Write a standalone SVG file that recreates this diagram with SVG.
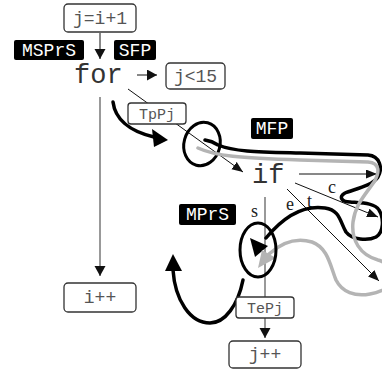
<svg xmlns="http://www.w3.org/2000/svg" width="382" height="372" viewBox="0 0 382 372">
  <defs>
    <style>
      .box { fill: #fff; stroke: #333; stroke-width: 1.3; }
      .code { font-family: "Liberation Mono", "DejaVu Sans Mono", monospace; fill: #555; text-anchor: middle; }
      .kw { font-family: "Liberation Mono", "DejaVu Sans Mono", monospace; fill: #333; font-size: 27px; }
      .tag rect { fill: #000; }
      .tag text { font-family: "Liberation Mono", "DejaVu Sans Mono", monospace; fill: #fff; font-size: 18px; text-anchor: middle; }
      .lbl { font-family: "Liberation Serif", "DejaVu Serif", serif; fill: #222; font-size: 18px; }
      .thin { fill: none; stroke: #111; stroke-width: 1; }
      .grayline { fill: none; stroke: #777; stroke-width: 1.5; }
      .thick { fill: none; stroke: #000; stroke-width: 3.5; stroke-linecap: round; }
      .thickgray { fill: none; stroke: #b4b4b4; stroke-width: 3.5; stroke-linecap: round; }
    </style>
    <marker id="ah" markerUnits="userSpaceOnUse" markerWidth="12" markerHeight="10" refX="11" refY="4.5" orient="auto">
      <path d="M0,0 L11,4.5 L0,9 Z" fill="#111"/>
    </marker>
    <marker id="ahBig" markerUnits="userSpaceOnUse" markerWidth="12" markerHeight="12" refX="10" refY="5.5" orient="auto">
      <path d="M0,0 L10,5.5 L0,11 Z" fill="#111"/>
    </marker>
  </defs>

  <!-- connectors -->
  <g id="connectors">
    <line class="thin" x1="100" y1="33" x2="100" y2="59" stroke="#222" marker-end="url(#ahBig)"/>
    <line class="thin" x1="137" y1="75" x2="157" y2="75" marker-end="url(#ahBig)"/>
    <line class="grayline" x1="100" y1="97" x2="100" y2="276" marker-end="url(#ahBig)"/>
    <line class="thin" x1="128" y1="89" x2="243" y2="172" marker-end="url(#ah)"/>
    <line class="thin" x1="299" y1="174" x2="377" y2="174" marker-end="url(#ah)"/>
    <line class="thin" x1="295" y1="183" x2="378" y2="217" marker-end="url(#ah)"/>
    <line class="thin" x1="287" y1="189" x2="379" y2="281" marker-end="url(#ah)"/>
    <line class="grayline" x1="265" y1="197" x2="265" y2="338" marker-end="url(#ahBig)"/>

    <!-- labels on the branches -->
    <text class="lbl" x="251" y="217">s</text>
    <text class="lbl" x="286" y="210">e</text>
    <text class="lbl" x="307" y="207">t</text>
    <text class="lbl" x="328" y="193">c</text>

    <!-- thick sketch strokes -->
    <path class="thick" d="M113,102 C115,118 128,131 154,137"/>
    <polygon points="168,140 152,129 154,147" fill="#000"/>

    <ellipse cx="202" cy="144" rx="18" ry="22" transform="rotate(15 202 144)" fill="none" stroke="#000" stroke-width="3"/>

    <path class="thick" d="M205,140 Q212,141 218,145 C235,152 260,152 300,153 L368,155 C380,156 383,168 378,177 C372,186 355,189 345,193 C338,197 342,202 350,202 C362,203 375,203 379,210 C384,218 384,232 376,237 C368,241 352,240 346,232 C340,222 340,210 325,208 C305,205 285,215 266,238"/>
    <polygon points="255,257 250,238 268,246" fill="#000"/>

    <path class="thickgray" d="M198,148 C215,156 240,158 300,160 L368,162 C380,163 380,172 374,182 C365,195 355,205 353,222 C351,240 360,255 378,260 C386,262 392,270 392,278 C392,285 385,291 370,294 C355,297 342,292 336,280 C330,265 328,248 312,242 C295,237 280,244 269,254"/>
    <polygon points="262,250 258,268 276,258" fill="#b4b4b4"/>

    <ellipse cx="258" cy="250" rx="18" ry="27" fill="none" stroke="#000" stroke-width="3"/>

    <path class="thick" d="M243,280 C238,305 225,323 210,323 C190,323 175,300 173,270"/>
    <polygon points="173,254 165,271 182,271" fill="#000"/>
  </g>

  <!-- keywords -->
  <g id="for"><text class="kw" x="74" y="83">for</text></g>
  <g id="if"><text class="kw" x="252" y="183">if</text></g>

  <!-- code boxes -->
  <g id="init"><rect class="box" x="64" y="4" width="72" height="28" rx="4"/><text class="code" x="100" y="24" font-size="18">j=i+1</text></g>
  <g id="cond"><rect class="box" x="166" y="63" width="59" height="26" rx="4"/><text class="code" x="195.5" y="82" font-size="18">j&lt;15</text></g>
  <g id="tppj"><rect class="box" x="128" y="103" width="58" height="21" rx="3"/><text class="code" x="157" y="119" font-size="15">TpPj</text></g>
  <g id="iinc"><rect class="box" x="64" y="283" width="72" height="29" rx="4"/><text class="code" x="100" y="303" font-size="18">i++</text></g>
  <g id="tepj"><rect class="box" x="236" y="297" width="58" height="21" rx="3"/><text class="code" x="265" y="313" font-size="15">TePj</text></g>
  <g id="jinc"><rect class="box" x="229" y="341" width="72" height="27" rx="4"/><text class="code" x="265" y="360" font-size="18">j++</text></g>

  <!-- black tags -->
  <g id="msprs" class="tag"><rect x="14" y="40" width="70" height="20" rx="2"/><text x="49" y="56">MSPrS</text></g>
  <g id="sfp" class="tag"><rect x="114" y="40" width="42" height="20" rx="2"/><text x="135" y="56">SFP</text></g>
  <g id="mfp" class="tag"><rect x="251" y="118" width="42" height="21" rx="2"/><text x="272" y="134">MFP</text></g>
  <g id="mprs" class="tag"><rect x="179" y="204" width="57" height="21" rx="2"/><text x="207.5" y="220">MPrS</text></g>
</svg>
